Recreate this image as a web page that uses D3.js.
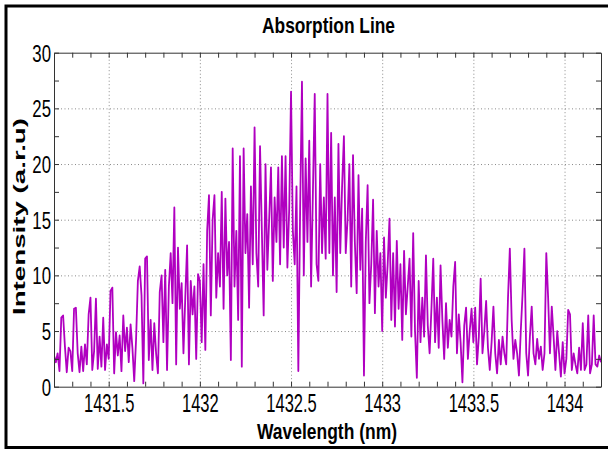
<!DOCTYPE html>
<html>
<head>
<meta charset="utf-8">
<script src="https://cdn.jsdelivr.net/npm/d3@7"></script>
<style>
  body { margin: 0; background: #fff; }
  svg { display: block; font-family: "Liberation Sans", Arial, sans-serif; }
</style>
</head>
<body>
<svg id="chart" width="608" height="449"></svg>
<script>
const title = "Absorption Line"
const xLabel = "Wavelength (nm)"
const yLabel = "Intensity (a.r.u)"

const xDomain = [1431.2, 1434.2]
const yDomain = [0, 30]
const xTicks = [1431.5, 1432, 1432.5, 1433, 1433.5, 1434]
const xMinorTicks = [1431.3, 1431.4, 1431.5, 1431.6, 1431.7, 1431.8, 1431.9, 1432, 1432.1, 1432.2,
  1432.3, 1432.4, 1432.5, 1432.6, 1432.7, 1432.8, 1432.9, 1433, 1433.1, 1433.2, 1433.3, 1433.4,
  1433.5, 1433.6, 1433.7, 1433.8, 1433.9, 1434, 1434.1]
const yTicks = [0, 5, 10, 15, 20, 25, 30]
const yMinorTicks = [2.5, 7.5, 12.5, 17.5, 22.5, 27.5]

// spectrum sampled every 0.01 nm starting at 1431.2 nm
const wavelengthStart = 1431.2
const wavelengthStep = 0.01
const intensity = [
  2.8, 2.2, 3.0, 1.4, 6.2, 6.4, 3.6, 1.3, 3.5, 3.2,
  1.4, 7.0, 7.1, 3.0, 1.3, 3.6, 1.4, 3.8, 2.0, 6.5,
  8.0, 1.5, 3.2, 7.9, 1.6, 4.5, 1.8, 6.2, 1.5, 3.8,
  2.5, 8.6, 8.9, 1.2, 4.9, 2.8, 4.6, 1.4, 6.4, 3.2,
  5.3, 2.2, 5.6, 3.5, 0.5, 4.2, 9.5, 10.8, 8.2, 0.3,
  11.5, 11.7, 2.4, 6.0, 1.5, 5.7, 3.0, 1.2, 8.5, 10.0,
  4.0, 10.5, 1.5, 9.0, 12.0, 7.5, 16.1, 2.0, 12.5, 7.0,
  9.3, 3.0, 8.0, 12.7, 2.0, 9.5, 6.5, 9.0, 2.5, 10.1,
  9.5, 4.0, 11.0, 3.3, 14.0, 17.2, 6.4, 15.0, 17.2, 8.0,
  12.0, 9.0, 17.5, 7.0, 16.9, 10.0, 13.0, 2.4, 21.4, 9.0,
  14.0, 6.0, 20.7, 1.8, 21.4, 12.0, 15.5, 7.1, 18.0, 11.0,
  23.3, 12.0, 9.0, 21.6, 14.0, 6.4, 20.0, 10.5, 15.0, 19.7,
  9.5, 17.0, 13.0, 19.7, 11.0, 20.7, 12.5, 20.7, 10.7, 16.0,
  26.5, 14.0, 11.0, 18.0, 1.4, 16.0, 27.4, 10.0, 20.5, 13.0,
  22.1, 9.0, 17.5, 26.3, 11.0, 9.5, 20.0, 12.0, 17.0, 11.5,
  26.3, 12.0, 22.8, 10.0, 17.0, 8.5, 21.8, 12.0, 18.0, 22.5,
  12.0, 15.0, 20.0, 9.0, 20.8, 13.0, 8.4, 19.0, 10.5, 16.0,
  1.0, 13.0, 18.1, 7.5, 11.0, 16.8, 6.6, 14.0, 9.0, 12.0,
  5.0, 13.4, 8.0, 11.0, 15.1, 6.0, 12.0, 5.4, 13.1, 7.0,
  11.0, 4.2, 12.2, 6.5, 9.0, 11.5, 4.5, 13.8, 5.0, 0.8,
  9.5, 4.0, 8.0, 4.5, 11.8, 5.5, 3.0, 7.0, 11.5, 4.0,
  8.0, 3.5, 10.9, 6.0, 2.5, 7.5, 3.5, 6.0, 4.5, 9.0,
  11.2, 3.0, 6.5, 4.0, 0.4, 5.5, 7.1, 2.5, 5.0, 7.0,
  4.0, 7.1, 2.0, 4.5, 9.7, 3.0, 5.0, 7.7, 3.5, 1.5,
  4.0, 7.2, 3.0, 1.2, 4.2, 2.0, 4.5, 3.0, 2.0, 8.0,
  12.4, 6.0, 2.5, 4.2, 3.0, 1.0, 5.0, 8.4, 12.4, 3.0,
  1.0, 4.5, 7.2, 3.0, 2.0, 4.3, 2.5, 3.6, 1.5, 3.0,
  12.0, 8.0, 3.0, 7.2, 4.5, 1.5, 5.0, 3.0, 0.9, 4.0,
  1.2, 2.5, 6.9, 6.5, 1.5, 3.0, 2.0, 1.2, 3.5, 1.5,
  5.7, 1.5, 2.0, 6.4, 1.2, 2.0, 6.4, 2.0, 1.8, 2.8, 2.2
]

const lineColor = "#b000c0"
const margin = { top: 52.7, right: 7, bottom: 62.3, left: 54 }
const width = 608 - margin.left - margin.right
const height = 449 - margin.top - margin.bottom

const svg = d3.select("#chart")

// outer frame of the figure
svg.append("rect")
  .attr("x", 6).attr("y", 6)
  .attr("width", 610).attr("height", 441.5)
  .attr("fill", "none")
  .attr("stroke", "#000")
  .attr("stroke-width", 3)

const x = d3.scaleLinear().domain(xDomain).range([0, width])
const y = d3.scaleLinear().domain(yDomain).range([height, 0])

const g = svg.append("g")
  .attr("transform", `translate(${margin.left},${margin.top})`)

// dotted grid at the major ticks
const grid = g.append("g").attr("stroke", "#8a8a8a").attr("stroke-dasharray", "1,2.5")
grid.selectAll("line.gx")
  .data(xTicks)
  .enter().append("line")
  .attr("x1", (d) => x(d) + 0.5).attr("x2", (d) => x(d) + 0.5)
  .attr("y1", 0).attr("y2", height)
grid.selectAll("line.gy")
  .data(yTicks.filter((d) => d > yDomain[0] && d < yDomain[1]))
  .enter().append("line")
  .attr("x1", 0).attr("x2", width)
  .attr("y1", (d) => y(d) + 0.5).attr("y2", (d) => y(d) + 0.5)

g.append("clipPath").attr("id", "plot-clip")
  .append("rect").attr("width", width).attr("height", height)

const data = intensity.map((v, i) => [wavelengthStart + i * wavelengthStep, v])
const line = d3.line()
  .x((d) => x(d[0]))
  .y((d) => y(d[1]))

g.append("path")
  .datum(data)
  .attr("clip-path", "url(#plot-clip)")
  .attr("fill", "none")
  .attr("stroke", lineColor)
  .attr("stroke-width", 1.8)
  .attr("stroke-linejoin", "round")
  .attr("d", line)

const isMajorX = (d) => xTicks.some((t) => Math.abs(t - d) < 1e-6)

// axes: ticks point inwards, box on all four sides
const xBottom = g.append("g")
  .attr("transform", `translate(0,${height})`)
  .call(d3.axisBottom(x).tickValues(xMinorTicks).tickSizeInner(-5).tickSizeOuter(0)
    .tickFormat((d) => isMajorX(d) ? String(d) : ""))
xBottom.selectAll("text")
  .attr("y", 0).attr("dy", null)
  .attr("transform", "translate(0,25.5) scale(0.66,1)")
  .style("font-size", "25px")

g.append("g")
  .call(d3.axisTop(x).tickValues(xMinorTicks).tickSizeInner(-5).tickSizeOuter(0).tickFormat(""))

const yLeft = g.append("g")
  .call(d3.axisLeft(y).tickValues(yTicks.concat(yMinorTicks)).tickSizeInner(-5).tickSizeOuter(0)
    .tickFormat((d) => yTicks.includes(d) ? String(d) : ""))
yLeft.selectAll("text")
  .attr("x", 0).attr("dy", null)
  .attr("transform", "translate(-3,8.5) scale(0.7,1)")
  .style("font-size", "24px")

g.append("g")
  .attr("transform", `translate(${width},0)`)
  .call(d3.axisRight(y).tickValues(yTicks.concat(yMinorTicks)).tickSizeInner(-5).tickSizeOuter(0).tickFormat(""))

g.selectAll(".domain").attr("stroke", "#333")
g.selectAll(".tick line").attr("stroke", "#333")
g.selectAll(".tick text").attr("fill", "#000")

// titles
svg.append("text")
  .attr("x", 328.5).attr("y", 33)
  .attr("text-anchor", "middle")
  .attr("textLength", 133).attr("lengthAdjust", "spacingAndGlyphs")
  .style("font-size", "22px").style("font-weight", "bold")
  .text(title)

svg.append("text")
  .attr("x", 327).attr("y", 439)
  .attr("text-anchor", "middle")
  .attr("textLength", 140).attr("lengthAdjust", "spacingAndGlyphs")
  .style("font-size", "22px").style("font-weight", "bold")
  .text(xLabel)

svg.append("text")
  .attr("transform", "translate(25,216.5) rotate(-90)")
  .attr("text-anchor", "middle")
  .attr("textLength", 197).attr("lengthAdjust", "spacingAndGlyphs")
  .style("font-size", "17px").style("font-weight", "bold")
  .text(yLabel)
</script>
</body>
</html>
